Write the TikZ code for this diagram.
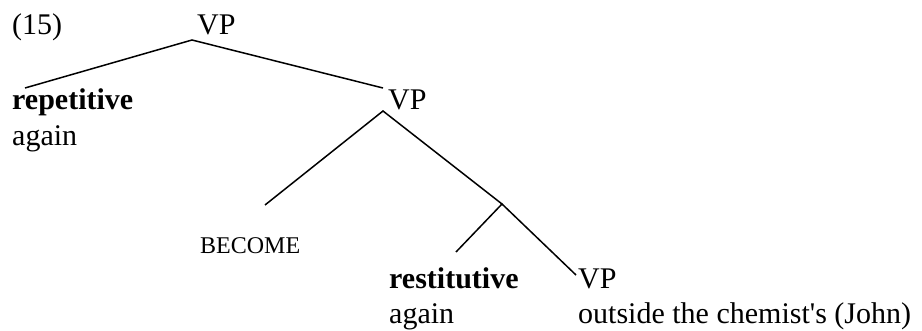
\documentclass[tikz,border=0pt]{standalone}
\usepackage{fontspec}
\setmainfont{Liberation Serif}
\begin{document}
\begin{tikzpicture}[x=1pt,y=-1pt,
  txt/.style={anchor=base west, inner sep=0pt, font=\fontsize{30}{36}\selectfont},
  smalltxt/.style={anchor=base west, inner sep=0pt, font=\fontsize{24}{28}\selectfont},
  branch/.style={draw=black, line width=1.5pt}]
\useasboundingbox (0,0) rectangle (922,331);
% labels
\node[txt] (ex) at (12,35) {(15)};
\node[txt] (vp1) at (197,35) {VP};
\node[txt] (rep) at (12,110) {\textbf{repetitive}};
\node[txt] (ag1) at (12,146) {again};
\node[txt] (vp2) at (388,110) {VP};
\node[smalltxt] (become) at (200,254) {BECOME};
\node[txt] (res) at (389,289) {\textbf{restitutive}};
\node[txt] (ag2) at (389,324) {again};
\node[txt] (vp3) at (578,289) {VP};
\node[txt] (out) at (578,324) {outside the chemist\textquotesingle s (John)};
% branch points
\coordinate (a1) at (192,40);
\coordinate (l1) at (25,88);
\coordinate (r1) at (383,88);
\coordinate (a2) at (383,111);
\coordinate (l2) at (265,205);
\coordinate (a3) at (502,204);
\coordinate (l3) at (456,252);
\coordinate (r3) at (576,275);
% connectors
\draw[branch] (l1) -- (a1) -- (r1);
\draw[branch] (l2) -- (a2) -- (a3);
\draw[branch] (l3) -- (a3) -- (r3);
\end{tikzpicture}
\end{document}
